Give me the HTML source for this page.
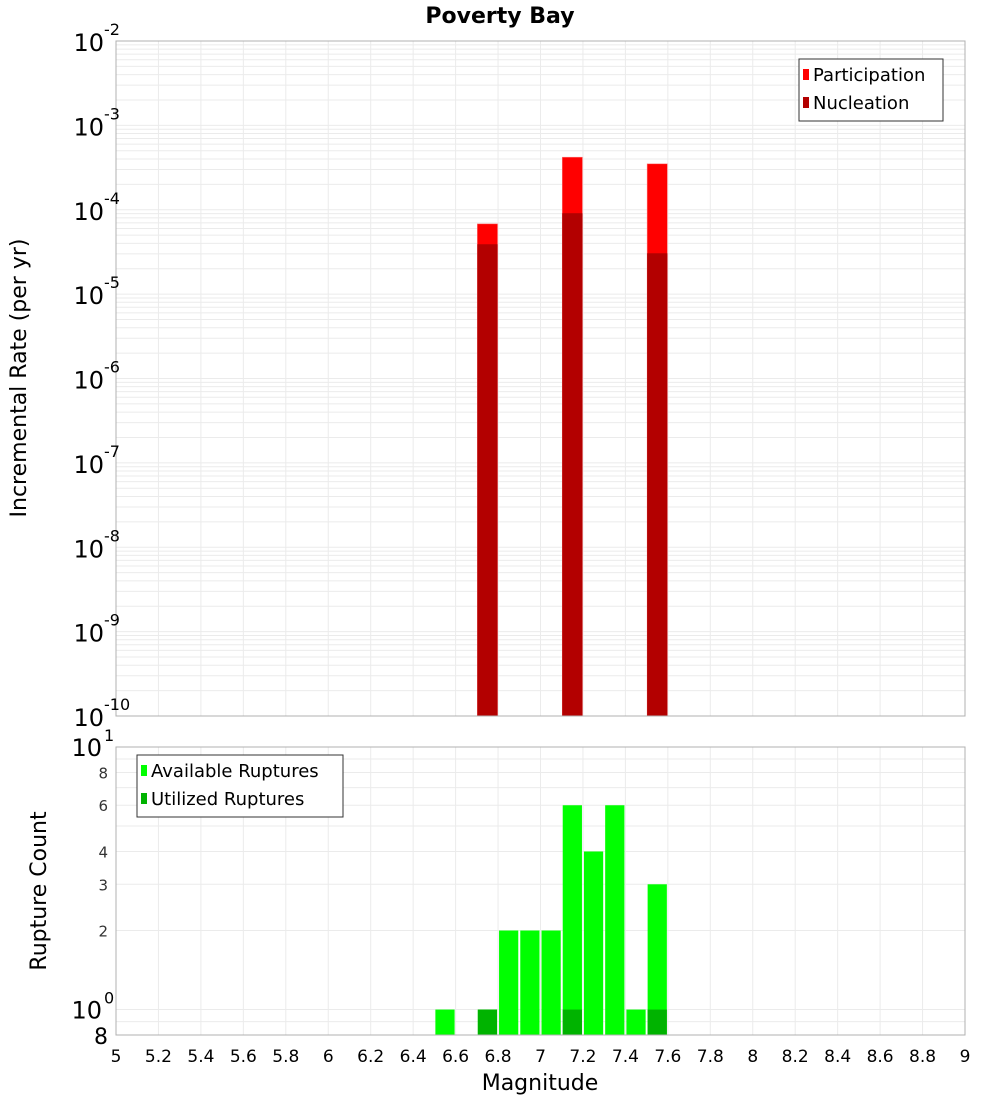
<!DOCTYPE html>
<html><head><meta charset="utf-8"><style>
body{margin:0;background:#fff;font-family:"Liberation Sans","DejaVu Sans",sans-serif}
svg text{font-family:"DejaVu Sans","Liberation Sans",sans-serif}
</style></head><body>
<svg id="c" width="1000" height="1100" xmlns="http://www.w3.org/2000/svg">
<text x="500" y="23" text-anchor="middle" font-size="22" font-weight="bold">Poverty Bay</text>
<text transform="translate(26,378) rotate(-90)" text-anchor="middle" font-size="22">Incremental Rate (per yr)</text>
<text transform="translate(46,891) rotate(-90)" text-anchor="middle" font-size="22">Rupture Count</text>
<text x="540" y="1090" text-anchor="middle" font-size="22">Magnitude</text>
</svg>
<script>
const rateMags=[6.75,7.15,7.55];
const participation=[6.8e-5,4.2e-4,3.5e-4];
const nucleation=[3.9e-5,9.1e-5,3.05e-5];
const countMags=[6.55,6.75,6.85,6.95,7.05,7.15,7.25,7.35,7.45,7.55];
const available=[1,1,2,2,2,6,4,6,1,3];
const utilized=[0,1,0,0,0,1,0,0,0,1];
const xTicks=[5,5.2,5.4,5.6,5.8,6,6.2,6.4,6.6,6.8,7,7.2,7.4,7.6,7.8,8,8.2,8.4,8.6,8.8,9];
const topExps=[-2,-3,-4,-5,-6,-7,-8,-9,-10];
const botTicks=[2,3,4,6,8];

const svg=document.getElementById('c');
const NS='http://www.w3.org/2000/svg';
function mk(t,a,p){const e=document.createElementNS(NS,t);for(const k in a)e.setAttribute(k,a[k]);(p||svg).appendChild(e);return e;}
const L=116,R=965,T1=41,B1=716,T2=747,B2=1035;
const X=m=>L+(m-5)*(R-L)/4;
const Y1=v=>T1+(-2-Math.log10(v))*(B1-T1)/8;
const Y2=v=>T2+(1-Math.log10(v))*(B2-T2)/(1-Math.log10(0.8));

// grids
const g1=mk('g',{});


const g2=mk('g',{});


for(let e=-10;e<-2;e++)for(let k=1;k<10;k++){const y=Y1(k*Math.pow(10,e));mk('line',{x1:L,x2:R,y1:y,y2:y,stroke:'#ebebeb','stroke-width':1},g1);}
for(const v of [0.9,1,2,3,4,5,6,7,8,9]){const y=Y2(v);mk('line',{x1:L,x2:R,y1:y,y2:y,stroke:'#ebebeb','stroke-width':1},g2);}
xTicks.forEach(m=>{const x=X(m);mk('line',{x1:x,x2:x,y1:T1,y2:B1,stroke:'#ebebeb'},g1);mk('line',{x1:x,x2:x,y1:T2,y2:B2,stroke:'#ebebeb'},g2);});

// top bars
rateMags.forEach((m,i)=>{
 const x=X(m-0.05)+0.5,w=X(m+0.05)-X(m-0.05)-1;
 let r=mk('rect',{x:x,y:Y1(participation[i]),width:w,height:B1-Y1(participation[i]),fill:'#ff0000',stroke:'#ff8080','stroke-width':0.5});
 
 
 r=mk('rect',{x:x,y:Y1(nucleation[i]),width:w,height:B1-Y1(nucleation[i]),fill:'#b30000'});
 
 
});
// bottom bars
countMags.forEach((m,i)=>{
 const x=X(m-0.05)+1,w=X(m+0.05)-X(m-0.05)-2;
 let r=mk('rect',{x:x,y:Y2(available[i]),width:w,height:B2-Y2(available[i]),fill:'#00ff00'});
 
 
 if(utilized[i]>0){r=mk('rect',{x:x,y:Y2(utilized[i]),width:w,height:B2-Y2(utilized[i]),fill:'#00b300'});
 
 }
});
// frames
mk('rect',{x:L,y:T1,width:R-L,height:B1-T1,fill:'none',stroke:'#b0b0b0'});
mk('rect',{x:L,y:T2,width:R-L,height:B2-T2,fill:'none',stroke:'#b0b0b0'});

// top y ticks
topExps.forEach(e=>{const y=Y1(Math.pow(10,e));
 const t=mk('text',{x:104,y:y+10,'text-anchor':'end','font-size':24});t.textContent='10';
 
 
 const s=mk('text',{x:104,y:y-6,'font-size':16});s.textContent=String(e);
 
 
});
// bottom y ticks
[[1,'10','1'],[0,'10','0']].forEach(([p,b,s])=>{const y=Y2(Math.pow(10,p));
 const t=mk('text',{x:102,y:y+9,'text-anchor':'end','font-size':24});t.textContent=b;
 
 
 const u=mk('text',{x:104,y:y-6,'font-size':16});u.textContent=s;
 
 
});
botTicks.forEach(v=>{const y=Y2(v);const t=mk('text',{x:108,y:y+6,'text-anchor':'end','font-size':15,fill:'#333'});t.textContent=String(v);
 
 });
{const t=mk('text',{x:108,y:B2+9,'text-anchor':'end','font-size':22});t.textContent='8';
 
 }
// x ticks
xTicks.forEach(m=>{const t=mk('text',{x:X(m),y:1062,'text-anchor':'middle','font-size':17});t.textContent=String(m);
 
 });

// legends
function legend(x,y,w,items,name){const g=mk('g',{});
 
 
 mk('rect',{x:x,y:y,width:w,height:items.length*28+6,fill:'#fff',stroke:'#333'},g);
 items.forEach(([c,l],i)=>{mk('rect',{x:x+4,y:y+10+i*28,width:6,height:11,fill:c},g);
 const t=mk('text',{x:x+14,y:y+22+i*28,'font-size':18},g);t.textContent=l;});}
legend(799,59,144,[['#ff0000','Participation'],['#b30000','Nucleation']],'top-legend');
legend(137,755,206,[['#00ff00','Available Ruptures'],['#00b300','Utilized Ruptures']],'bottom-legend');
</script>
</body></html>
